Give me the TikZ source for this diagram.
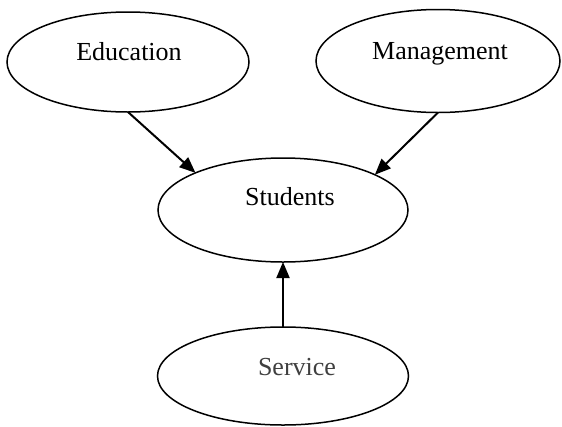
\documentclass[tikz,border=0pt]{standalone}
\usepackage{fontspec}
\setmainfont{Liberation Serif}
\usetikzlibrary{shapes.geometric,arrows.meta}
\begin{document}
\begin{tikzpicture}[x=1pt,y=-1pt,
  oval/.style={draw,ellipse,line width=1.5pt,inner sep=0pt,outer sep=0pt},
  lbl/.style={font=\fontsize{26}{30}\selectfont,inner sep=0pt,anchor=base},
  arr/.style={-{Triangle[length=16pt,width=13pt]},line width=2pt}]
\useasboundingbox (0,0) rectangle (562,426);
\node[oval,minimum width=242pt,minimum height=100pt] (edu) at (128,62) {};
\node[oval,minimum width=244pt,minimum height=103pt] (mgt) at (438,61) {};
\node[oval,minimum width=250pt,minimum height=104pt] (stu) at (283,210) {};
\node[oval,minimum width=251pt,minimum height=98pt] (svc) at (283,376) {};
\node[lbl] (edut) at (129,60) {Education};
\node[lbl] (mgtt) at (440,59) {Management};
\node[lbl] (stut) at (290,205) {Students};
\node[lbl,text={rgb,255:red,64;green,64;blue,64}] (svct) at (297,375) {Service};
\draw[arr] (edu.south) -- (stu.157.7);
\draw[arr] (mgt.south) -- (stu.21.8);
\draw[arr] (svc.north) -- (stu.south);
\end{tikzpicture}
\end{document}
